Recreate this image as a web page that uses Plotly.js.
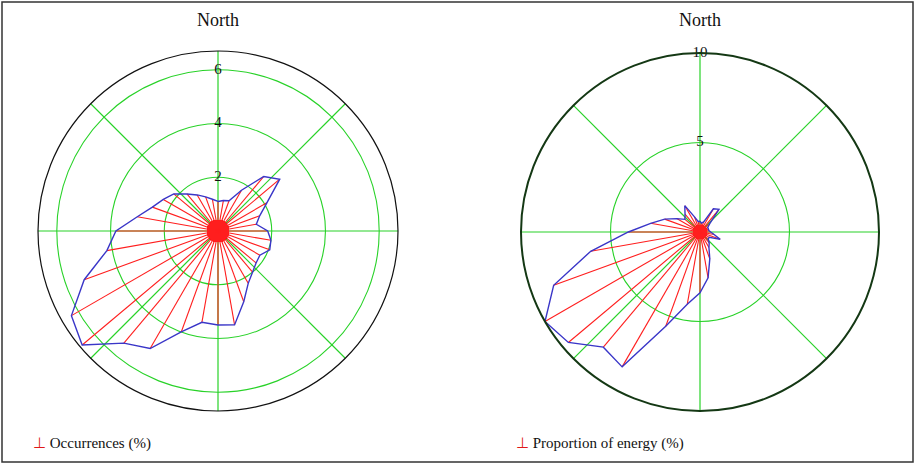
<!DOCTYPE html>
<html>
<head>
<meta charset="utf-8">
<script src="https://cdn.plot.ly/plotly-3.0.1.min.js"></script>
<style>html,body{margin:0;padding:0;background:#fff;}#chart{width:916px;height:465px;}</style>
</head>
<body>
<div id="chart"></div>
<script>
// Wind directions (degrees from North, clockwise)
const directions = [0,10,20,30,40,50,60,70,80,90,100,110,120,130,140,150,160,170,
                    180,190,200,210,220,230,240,250,260,270,280,290,300,310,320,330,340,350];
// Occurrences (%) per direction
const occurrences = [1.1,1.15,1.2,1.75,2.65,3.0,2.1,1.65,1.45,1.85,2.0,2.05,1.8,1.85,2.0,2.25,2.8,3.55,
                     3.5,3.45,4.0,5.05,5.45,6.6,6.3,5.3,4.2,3.8,3.05,2.6,2.35,2.15,1.8,1.55,1.35,1.2];
// Proportion of energy (%) per direction
const energy = [0.6,0.5,0.6,1.5,1.65,0.7,0.5,0.5,0.5,0.6,0.8,1.2,0.6,0.6,0.8,1.0,1.6,2.6,
                3.4,4.1,5.6,8.7,8.4,9.6,10.0,8.7,6.2,4.0,2.8,2.1,1.5,1.1,1.3,1.7,0.9,0.6];
const leftTicks = [2,4,6];
const rightTicks = [5,10];
const gridAngles = [0,45,90,135,180,225,270,315];
const titles = ['North','North'];
const legendNames = ['Occurrences (%)','Proportion of energy (%)'];

const SPOKE = 'rgb(255,30,30)', POLY = 'rgb(58,54,200)', GRID = 'rgb(40,210,40)';
const FONT = 'Liberation Serif';

function spokes(vals, blob){
  const r=[], t=[], sz=[];
  vals.forEach((v,i)=>{ r.push(0, v, null); t.push(directions[i], directions[i], null); sz.push(blob, 0, 0); });
  return {r, t, sz};
}
function makeTraces(vals, subplot, ticks, name, blob){
  const s = spokes(vals, blob);
  return [
    {type:'scatterpolar', subplot, r:s.r, theta:s.t, mode:'lines+markers', connectgaps:false,
     line:{color:SPOKE, width:1.1}, marker:{color:SPOKE, size:s.sz, line:{width:0}},
     name, showlegend:false, hoverinfo:'skip'},
    {type:'scatterpolar', subplot, r:vals.concat([vals[0]]), theta:directions.concat([directions[0]]),
     mode:'lines', line:{color:POLY, width:1.4}, showlegend:false, hoverinfo:'skip'},
    {type:'scatterpolar', subplot, r:ticks, theta:ticks.map(()=>0), mode:'text',
     text:ticks.map(String), textposition:'middle center',
     textfont:{family:FONT, size:15, color:'#111'}, showlegend:false, hoverinfo:'skip'}
  ];
}

const data = [].concat(
  makeTraces(occurrences, 'polar', leftTicks, legendNames[0], 22),
  makeTraces(energy, 'polar2', rightTicks, legendNames[1], 14)
);

function polarCfg(domx, domy, range, ticks, lineColor, lineWidth){
  return {
    domain:{x:domx, y:domy}, bgcolor:'rgba(0,0,0,0)',
    angularaxis:{rotation:90, direction:'clockwise', tickmode:'array', tickvals:gridAngles,
                 showticklabels:false, ticks:'', tickcolor:'rgba(0,0,0,0)', showgrid:true,
                 gridcolor:GRID, gridwidth:1.2, linecolor:lineColor, linewidth:lineWidth, showline:true},
    radialaxis:{range, tickvals:ticks, showticklabels:false, ticks:'', showline:false,
                linecolor:'rgba(0,0,0,0)', tickcolor:'rgba(0,0,0,0)',
                gridcolor:GRID, gridwidth:1.1, angle:90}
  };
}

const W=916, H=465;
const layout = {
  width:W, height:H, margin:{l:0,r:0,t:0,b:0}, paper_bgcolor:'#fff', showlegend:false,
  font:{family:FONT, color:'#111'},
  polar: polarCfg([38/W, 398/W], [(H-411)/H, (H-51)/H], [0,6.7], leftTicks, '#111', 1.2),
  polar2: polarCfg([521/W, 879/W], [(H-411)/H, (H-53)/H], [0,10], rightTicks, '#143814', 2),
  annotations:[
    {text:titles[0], x:218/W, y:1-20/H, xref:'paper', yref:'paper', showarrow:false,
     xanchor:'center', yanchor:'middle', font:{family:FONT, size:18, color:'#111'}},
    {text:titles[1], x:700/W, y:1-20/H, xref:'paper', yref:'paper', showarrow:false,
     xanchor:'center', yanchor:'middle', font:{family:FONT, size:18, color:'#111'}},
    {text:'<span style="color:#e01818">⊥</span> '+legendNames[0], x:31/W, y:1-443/H, xref:'paper', yref:'paper',
     showarrow:false, xanchor:'left', yanchor:'middle', font:{family:FONT, size:15, color:'#111'}},
    {text:'<span style="color:#e01818">⊥</span> '+legendNames[1], x:514/W, y:1-443/H, xref:'paper', yref:'paper',
     showarrow:false, xanchor:'left', yanchor:'middle', font:{family:FONT, size:15, color:'#111'}}
  ],
  shapes:[
    {type:'rect', xref:'paper', yref:'paper', x0:2/W, x1:1-3/W, y0:3/H, y1:1-2/H,
     line:{color:'#333', width:1.5}}
  ]
};

Plotly.newPlot('chart', data, layout, {staticPlot:true, displayModeBar:false});
</script>
</body>
</html>
